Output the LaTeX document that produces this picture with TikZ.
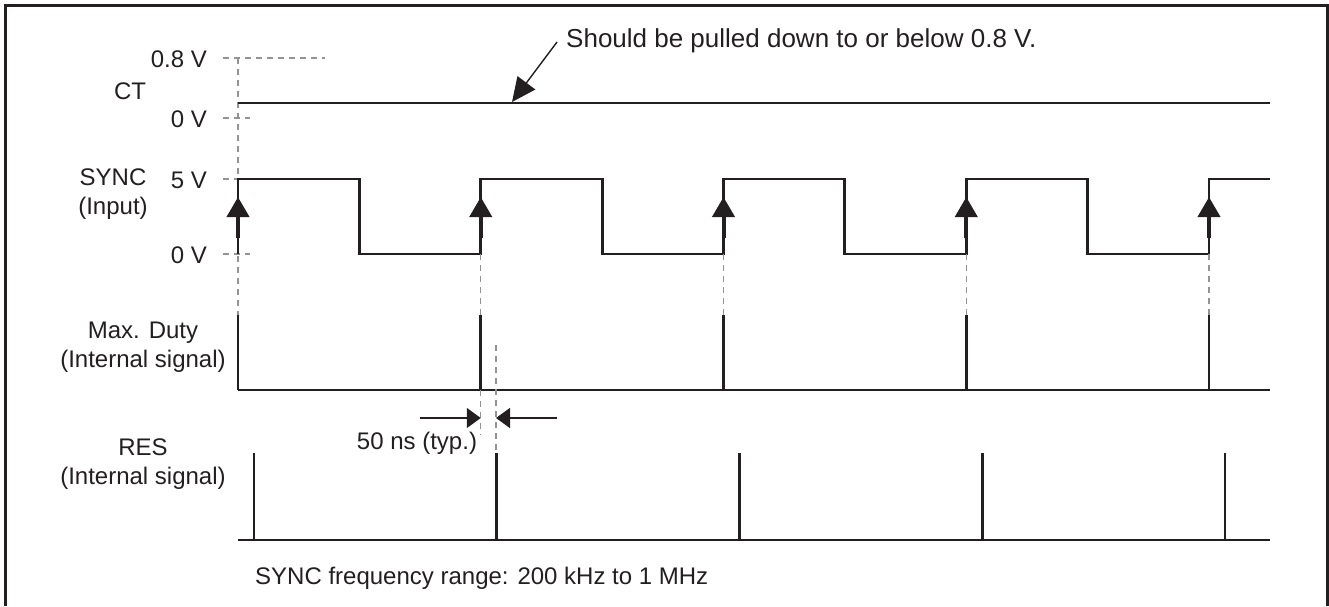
\documentclass[tikz,border=0pt]{standalone}
\usepackage{fontspec}
\setmainfont{Liberation Sans}
\usetikzlibrary{arrows.meta}
\definecolor{ink}{HTML}{231F20}

\begin{document}
\begin{tikzpicture}[x=1pt, y=-1pt, >=Stealth, ink,
    every node/.style={font=\fontsize{24}{29}\selectfont, text=ink, inner sep=0pt},
    sig/.style={line width=2.8pt},
    guide/.style={gray!85, line width=1.3pt, dash pattern=on 6pt off 5pt},
    edgearrow/.style={line width=4pt, -{Triangle[length=20pt, width=22pt]}},
    dimarrow/.style={line width=1.4pt, -{Triangle[length=14pt, width=20pt]}},
    lbl/.style={align=center}]
  \useasboundingbox (0,0) rectangle (1329,606);
  \draw[line width=3pt] (5,606) -- (5,5) -- (1327,5) -- (1327,606);

  % labels
  \node[anchor=base east] (v08) at (207,67) {0.8 V};
  \node[anchor=base east] (ctzero) at (207,127) {0 V};
  \node[anchor=base east] (vfive) at (207,188) {5 V};
  \node[anchor=base east] (synczero) at (207,263) {0 V};
  \node[anchor=base] (ct) at (130,99) {CT};
  \node[lbl, anchor=base] (sync) at (113,214) {SYNC\\(Input)};
  \node[lbl, anchor=base] (duty) at (143,367) {Max. Duty\\(Internal signal)};
  \node[lbl, anchor=base] (res) at (143,484) {RES\\(Internal signal)};
  \node[anchor=base west, font=\fontsize{26}{30}\selectfont] (note) at (566,47) {Should be pulled down to or below 0.8 V.};
  \node[anchor=base] (typ) at (417,449) {50 ns (typ.)};
  \node[anchor=base west] (freq) at (255,584) {SYNC frequency range: 200 kHz to 1 MHz};

  % level guides
  \draw[guide] (223,58) -- (325,58);
  \draw[guide] (223,118) -- (250,118);
  \draw[guide] (223,179) -- (238,179);
  \draw[guide] (223,254) -- (250,254);
  \draw[guide] (238,58) -- (238,315);

  % CT
  \coordinate (ctL) at (238,103);
  \coordinate (ctR) at (1270,103);
  \coordinate (cthit) at (512,102);
  \draw[sig] (ctL) -- (ctR);
  \draw[line width=1.4pt, -{Triangle[length=24pt, width=22pt]}] (557,42) -- (cthit);

  % SYNC
  \draw[sig] (238,254) foreach \k in {0,...,3} { -- ++(0,-75) -- ++(121.375,0) -- ++(0,75) -- ++(121.375,0) } -- ++(0,-75) -- (1270,179);
  \foreach \k in {0,...,4} {
    \pgfmathsetmacro\xr{238+\k*242.75}
    \draw[edgearrow] (\xr,238) -- (\xr,197);
    \draw[sig] (\xr,315) -- (\xr,390);
  }
  \foreach \k in {1,...,4}
    \draw[guide] (238+\k*242.75,254) -- (238+\k*242.75,315);

  % Max. Duty
  \draw[sig] (238,390) -- (1270,390);

  % 50 ns
  \draw[guide] (480.75,390) -- (480.75,435);
  \draw[guide] (496,345) -- (496,452);
  \draw[dimarrow] (420,418) -- (480.75,418);
  \draw[dimarrow] (557,418) -- (496,418);

  % RES
  \draw[sig] (238,540) -- (1270,540);
  \foreach \k in {0,...,4}
    \draw[sig] (254+\k*242.75,453) -- (254+\k*242.75,540);
\end{tikzpicture}
\end{document}
